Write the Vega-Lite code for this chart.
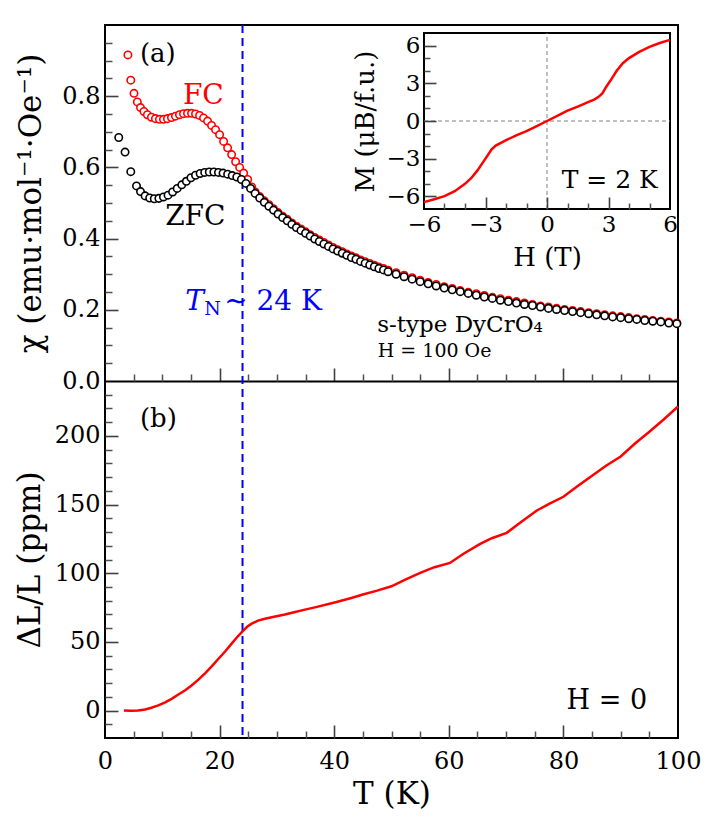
{
  "$schema": "https://vega.github.io/schema/vega-lite/v6.json",
  "width": 573,
  "height": 713,
  "autosize": {"type": "none"},
  "padding": {"left": 105, "top": 25, "right": 29, "bottom": 79},
  "background": "white",
  "config": {
    "view": {"stroke": "black", "strokeWidth": 2},
    "font": "DejaVu Serif",
    "text": {"font": "DejaVu Serif"},
    "axis": {
      "labelFont": "DejaVu Serif", "titleFont": "DejaVu Serif",
      "labelColor": "black", "titleColor": "black", "domainColor": "black",
      "grid": false, "labelFontSize": 24, "titleFontSize": 31, "titleFontWeight": "normal",
      "labelFlush": false, "labelOverlap": false, "labelBound": false, "domain": false
    }
  },
  "datasets": {
    "one": [{}],
    "fc": [
      {"T":4.0,"chi":0.916},{"T":4.5,"chi":0.845},{"T":5.06,"chi":0.808},{"T":5.64,"chi":0.784},{"T":6.2,"chi":0.768},
      {"T":6.8,"chi":0.757},{"T":7.4,"chi":0.748},{"T":8.1,"chi":0.741},{"T":8.8,"chi":0.737},{"T":9.5,"chi":0.735},
      {"T":10.2,"chi":0.735},{"T":10.9,"chi":0.737},{"T":11.6,"chi":0.740},{"T":12.3,"chi":0.744},{"T":13.0,"chi":0.748},
      {"T":13.7,"chi":0.751},{"T":14.4,"chi":0.752},{"T":15.1,"chi":0.752},{"T":15.8,"chi":0.750},{"T":16.5,"chi":0.746},
      {"T":17.2,"chi":0.739},{"T":17.9,"chi":0.730},{"T":18.6,"chi":0.718},{"T":19.3,"chi":0.706},{"T":20.0,"chi":0.692},
      {"T":20.7,"chi":0.673},{"T":21.4,"chi":0.655},{"T":22.1,"chi":0.636},{"T":22.8,"chi":0.616},{"T":23.5,"chi":0.600},
      {"T":24.2,"chi":0.584},{"T":24.9,"chi":0.566},{"T":25.6,"chi":0.545},
      {"T":26.2,"chi":0.531},{"T":27.0,"chi":0.518},{"T":27.8,"chi":0.506},{"T":28.6,"chi":0.495},{"T":29.4,"chi":0.484},
      {"T":30.2,"chi":0.473},{"T":31.0,"chi":0.463},{"T":31.8,"chi":0.454},{"T":32.6,"chi":0.444},{"T":33.4,"chi":0.435},
      {"T":34.2,"chi":0.427},{"T":35.0,"chi":0.419},{"T":35.8,"chi":0.411},{"T":36.6,"chi":0.403},{"T":37.4,"chi":0.396},
      {"T":38.2,"chi":0.389},{"T":39.0,"chi":0.382},{"T":39.8,"chi":0.375},{"T":40.6,"chi":0.369},{"T":41.4,"chi":0.363},
      {"T":42.2,"chi":0.357},{"T":43.0,"chi":0.351},{"T":43.8,"chi":0.346},{"T":44.6,"chi":0.340},{"T":45.4,"chi":0.335},
      {"T":46.2,"chi":0.330},{"T":47.0,"chi":0.325},{"T":47.8,"chi":0.320},{"T":48.6,"chi":0.316},{"T":49.4,"chi":0.311},
      {"T":50.8,"chi":0.304},{"T":52.2,"chi":0.297},{"T":53.6,"chi":0.290},{"T":55.0,"chi":0.283},{"T":56.4,"chi":0.277},
      {"T":57.8,"chi":0.271},{"T":59.2,"chi":0.265},{"T":60.6,"chi":0.260},{"T":62.0,"chi":0.254},{"T":63.4,"chi":0.249},
      {"T":64.8,"chi":0.245},{"T":66.2,"chi":0.240},{"T":67.6,"chi":0.235},{"T":69.0,"chi":0.231},{"T":70.4,"chi":0.227},
      {"T":71.8,"chi":0.223},{"T":73.2,"chi":0.219},{"T":74.6,"chi":0.215},{"T":76.0,"chi":0.211},{"T":77.4,"chi":0.208},
      {"T":78.8,"chi":0.204},{"T":80.2,"chi":0.201},{"T":81.6,"chi":0.198},{"T":83.0,"chi":0.195},{"T":84.4,"chi":0.192},
      {"T":85.8,"chi":0.189},{"T":87.2,"chi":0.186},{"T":88.6,"chi":0.183},{"T":90.0,"chi":0.181},{"T":91.4,"chi":0.178},
      {"T":92.8,"chi":0.175},{"T":94.2,"chi":0.173},{"T":95.6,"chi":0.170},{"T":97.0,"chi":0.168},{"T":98.4,"chi":0.166},
      {"T":99.8,"chi":0.163}
    ],
    "zfc": [
      {"T":2.4,"chi":0.684},{"T":3.5,"chi":0.643},{"T":4.5,"chi":0.588},{"T":5.5,"chi":0.548},{"T":6.2,"chi":0.532},
      {"T":7.0,"chi":0.520},{"T":7.8,"chi":0.514},{"T":8.6,"chi":0.512},{"T":9.4,"chi":0.513},{"T":10.2,"chi":0.517},
      {"T":11.0,"chi":0.522},{"T":11.8,"chi":0.531},{"T":12.6,"chi":0.541},{"T":13.4,"chi":0.551},{"T":14.2,"chi":0.561},
      {"T":15.0,"chi":0.571},{"T":15.8,"chi":0.578},{"T":16.6,"chi":0.583},{"T":17.4,"chi":0.586},{"T":18.2,"chi":0.587},
      {"T":19.0,"chi":0.587},{"T":19.8,"chi":0.586},{"T":20.6,"chi":0.584},{"T":21.4,"chi":0.581},{"T":22.2,"chi":0.577},
      {"T":23.0,"chi":0.573},{"T":23.8,"chi":0.566},{"T":24.6,"chi":0.555},{"T":25.4,"chi":0.541},{"T":26.2,"chi":0.527},
      {"T":27.0,"chi":0.514},{"T":27.8,"chi":0.502},{"T":28.6,"chi":0.491},{"T":29.4,"chi":0.480},{"T":30.2,"chi":0.469},
      {"T":31.0,"chi":0.459},{"T":31.8,"chi":0.450},{"T":32.6,"chi":0.440},{"T":33.4,"chi":0.431},{"T":34.2,"chi":0.423},
      {"T":35.0,"chi":0.415},{"T":35.8,"chi":0.407},{"T":36.6,"chi":0.399},{"T":37.4,"chi":0.392},{"T":38.2,"chi":0.385},
      {"T":39.0,"chi":0.378},{"T":39.8,"chi":0.371},{"T":40.6,"chi":0.365},{"T":41.4,"chi":0.359},{"T":42.2,"chi":0.353},
      {"T":43.0,"chi":0.347},{"T":43.8,"chi":0.342},{"T":44.6,"chi":0.336},{"T":45.4,"chi":0.331},{"T":46.2,"chi":0.326},
      {"T":47.0,"chi":0.321},{"T":47.8,"chi":0.316},{"T":48.6,"chi":0.312},{"T":49.4,"chi":0.307},{"T":50.8,"chi":0.300},
      {"T":52.2,"chi":0.293},{"T":53.6,"chi":0.286},{"T":55.0,"chi":0.279},{"T":56.4,"chi":0.273},{"T":57.8,"chi":0.267},
      {"T":59.2,"chi":0.261},{"T":60.6,"chi":0.256},{"T":62.0,"chi":0.251},{"T":63.4,"chi":0.246},{"T":64.8,"chi":0.241},
      {"T":66.2,"chi":0.236},{"T":67.6,"chi":0.232},{"T":69.0,"chi":0.227},{"T":70.4,"chi":0.223},{"T":71.8,"chi":0.219},
      {"T":73.2,"chi":0.215},{"T":74.6,"chi":0.212},{"T":76.0,"chi":0.208},{"T":77.4,"chi":0.204},{"T":78.8,"chi":0.201},
      {"T":80.2,"chi":0.198},{"T":81.6,"chi":0.195},{"T":83.0,"chi":0.192},{"T":84.4,"chi":0.189},{"T":85.8,"chi":0.186},
      {"T":87.2,"chi":0.183},{"T":88.6,"chi":0.180},{"T":90.0,"chi":0.178},{"T":91.4,"chi":0.175},{"T":92.8,"chi":0.173},
      {"T":94.2,"chi":0.170},{"T":95.6,"chi":0.168},{"T":97.0,"chi":0.166},{"T":98.4,"chi":0.163},{"T":99.8,"chi":0.161}
    ],
    "dl": [
      {"T":3.3,"dL":0},{"T":4.5,"dL":-0.2},{"T":5.8,"dL":0},{"T":7.0,"dL":0.8},{"T":8.1,"dL":2},{"T":9.3,"dL":3.8},
      {"T":10.5,"dL":6},{"T":11.7,"dL":8.7},{"T":12.8,"dL":11.7},{"T":14.0,"dL":14.8},{"T":15.1,"dL":18.2},{"T":16.3,"dL":22.5},
      {"T":17.5,"dL":27.3},{"T":18.7,"dL":32.5},{"T":19.8,"dL":37.7},{"T":21.0,"dL":43.2},{"T":22.1,"dL":48.7},{"T":23.0,"dL":53.2},
      {"T":24.0,"dL":57.7},{"T":24.8,"dL":61.0},{"T":25.6,"dL":63.3},{"T":26.7,"dL":65.5},{"T":27.9,"dL":66.9},{"T":29.5,"dL":68.3},
      {"T":31.4,"dL":70.0},{"T":33.0,"dL":71.6},{"T":34.9,"dL":73.5},{"T":37.0,"dL":75.5},{"T":40.4,"dL":79.0},{"T":43.0,"dL":82.0},
      {"T":45.0,"dL":84.5},{"T":47.5,"dL":87.3},{"T":50.0,"dL":90.5},{"T":52.5,"dL":95.5},{"T":55.0,"dL":100.2},{"T":57.5,"dL":104.4},
      {"T":60.2,"dL":107.5},{"T":62.5,"dL":114.0},{"T":65.4,"dL":121.2},{"T":67.5,"dL":125.5},{"T":70.1,"dL":129.4},{"T":72.5,"dL":137.0},
      {"T":75.3,"dL":145.5},{"T":77.5,"dL":150.5},{"T":80.0,"dL":155.7},{"T":82.5,"dL":163.5},{"T":85.0,"dL":171.0},{"T":87.5,"dL":178.5},
      {"T":90.0,"dL":185.0},{"T":92.5,"dL":194.5},{"T":95.0,"dL":203.0},{"T":97.5,"dL":212.0},{"T":100.0,"dL":221.4}
    ],
    "mh": [
      {"H":-6.0,"M":-6.45},{"H":-5.5,"M":-6.22},{"H":-5.0,"M":-5.98},{"H":-4.5,"M":-5.58},{"H":-4.0,"M":-5.0},
      {"H":-3.7,"M":-4.55},{"H":-3.4,"M":-3.95},{"H":-3.15,"M":-3.35},{"H":-2.9,"M":-2.75},{"H":-2.7,"M":-2.25},
      {"H":-2.5,"M":-1.95},{"H":-2.2,"M":-1.7},{"H":-1.9,"M":-1.45},{"H":-1.5,"M":-1.15},{"H":-1.0,"M":-0.8},
      {"H":-0.5,"M":-0.4},{"H":0,"M":0},{"H":0.5,"M":0.4},{"H":1.0,"M":0.82},{"H":1.5,"M":1.15},{"H":2.0,"M":1.5},
      {"H":2.3,"M":1.7},{"H":2.5,"M":1.9},{"H":2.7,"M":2.2},{"H":2.9,"M":2.75},{"H":3.15,"M":3.35},{"H":3.4,"M":4.0},
      {"H":3.7,"M":4.6},{"H":4.0,"M":5.0},{"H":4.5,"M":5.5},{"H":5.0,"M":5.9},{"H":5.5,"M":6.2},{"H":6.0,"M":6.45}
    ]
  },
  "resolve": {
    "scale": {"x": "independent", "y": "independent"},
    "axis": {"x": "independent", "y": "independent"}
  },
  "layer": [
    {
      "data": {"name": "one"},
      "mark": {"type": "rule", "color": "#0000ff", "strokeWidth": 2, "strokeDash": [8, 5]},
      "encoding": {
        "x": {"datum": 24, "type": "quantitative", "scale": {"domain": [0, 100], "nice": false, "zero": false}, "axis": null}
      }
    },
    {
      "data": {"name": "fc"},
      "mark": {"type": "point", "shape": "circle", "size": 55, "stroke": "#ff0000", "strokeWidth": 1.6, "fill": "white", "fillOpacity": 1, "opacity": 1},
      "encoding": {
        "x": {"field": "T", "type": "quantitative", "scale": {"domain": [0, 100], "nice": false, "zero": false},
              "axis": {"orient": "bottom", "values": [0, 20, 40, 60, 80, 100], "ticks": false, "labelPadding": 11, "title": "T (K)", "titlePadding": 6}},
        "y": {"field": "chi", "type": "quantitative", "scale": {"domain": [0, 1], "range": [356, 0], "nice": false, "zero": false},
              "axis": {"orient": "left", "values": [0, 0.2, 0.4, 0.6, 0.8], "format": ".1f", "ticks": false, "labelPadding": 5, "title": "χ (emu·mol⁻¹·Oe⁻¹)", "titlePadding": 14}}
      }
    },
    {
      "data": {"name": "zfc"},
      "mark": {"type": "point", "shape": "circle", "size": 55, "stroke": "black", "strokeWidth": 1.6, "fill": "white", "fillOpacity": 1, "opacity": 1},
      "encoding": {
        "x": {"field": "T", "type": "quantitative", "scale": {"domain": [0, 100], "nice": false, "zero": false},
              "axis": {"orient": "top", "offset": -713, "values": [20, 40, 60, 80], "tickSize": 13, "tickColor": "#404040", "tickWidth": 1.6, "labels": false, "title": null}},
        "y": {"field": "chi", "type": "quantitative", "scale": {"domain": [0, 1], "range": [356, 0], "nice": false, "zero": false},
              "axis": {"orient": "right", "offset": -573, "values": [0.2, 0.4, 0.6, 0.8], "tickSize": 13, "tickColor": "#404040", "tickWidth": 1.6, "labels": false, "title": null}}
      }
    },
    {
      "data": {"name": "dl"},
      "mark": {"type": "line", "color": "#ff0000", "strokeWidth": 2.5},
      "encoding": {
        "x": {"field": "T", "type": "quantitative", "scale": {"domain": [0, 100], "nice": false, "zero": false},
              "axis": {"orient": "top", "offset": -356, "values": [20, 40, 60, 80], "tickSize": 13, "tickColor": "#404040", "tickWidth": 1.6, "domain": true, "domainWidth": 2, "labels": false, "title": null}},
        "y": {"field": "dL", "type": "quantitative", "scale": {"domain": [-20, 240], "range": [713, 356], "nice": false, "zero": false},
              "axis": {"orient": "left", "values": [0, 50, 100, 150, 200], "ticks": false, "labelPadding": 5, "title": "ΔL/L (ppm)", "titlePadding": 8}}
      }
    },
    {
      "data": {"name": "one"},
      "mark": {"type": "text", "text": "(b)", "align": "left", "baseline": "middle", "fontSize": 26},
      "encoding": {
        "x": {"datum": 6.1, "type": "quantitative", "scale": {"domain": [0, 100], "nice": false, "zero": false},
              "axis": {"orient": "top", "offset": -356, "values": [5, 10, 15, 25, 30, 35, 45, 50, 55, 65, 70, 75, 85, 90, 95], "tickSize": 7, "tickWidth": 1.5, "tickColor": "#505050", "labels": false, "title": null}},
        "y": {"datum": 212, "type": "quantitative", "scale": {"domain": [-20, 240], "range": [713, 356], "nice": false, "zero": false},
              "axis": {"orient": "left", "values": [0, 50, 100, 150, 200], "tickSize": -13, "tickColor": "#404040", "tickWidth": 1.6, "labels": false, "title": null}}
      }
    },
    {
      "data": {"name": "one"},
      "mark": {"type": "text", "text": "H = 0", "align": "right", "baseline": "middle", "fontSize": 27},
      "encoding": {
        "x": {"datum": 94.6, "type": "quantitative", "scale": {"domain": [0, 100], "nice": false, "zero": false},
              "axis": {"orient": "bottom", "values": [5, 10, 15, 25, 30, 35, 45, 50, 55, 65, 70, 75, 85, 90, 95], "tickSize": -7, "tickColor": "#505050", "tickWidth": 1.5, "labels": false, "title": null}},
        "y": {"datum": 6.6, "type": "quantitative", "scale": {"domain": [-20, 240], "range": [713, 356], "nice": false, "zero": false},
              "axis": {"orient": "right", "offset": -573, "values": [-10, 10, 20, 30, 40, 60, 70, 80, 90, 110, 120, 130, 140, 160, 170, 180, 190, 210, 220, 230], "tickSize": 7, "tickColor": "#505050", "tickWidth": 1.5, "labels": false, "title": null}}
      }
    },
    {
      "data": {"name": "one"},
      "mark": {"type": "text", "text": "(a)", "align": "left", "baseline": "middle", "fontSize": 26},
      "encoding": {
        "x": {"datum": 6.1, "type": "quantitative", "scale": {"domain": [0, 100], "nice": false, "zero": false}, "axis": null},
        "y": {"datum": 0.918, "type": "quantitative", "scale": {"domain": [0, 1], "range": [356, 0], "nice": false, "zero": false},
              "axis": {"orient": "left", "values": [0.05, 0.1, 0.15, 0.25, 0.3, 0.35, 0.45, 0.5, 0.55, 0.65, 0.7, 0.75, 0.85, 0.9, 0.95], "tickSize": -7, "tickColor": "#505050", "tickWidth": 1.5, "labels": false, "title": null}}
      }
    },
    {
      "data": {"name": "one"},
      "mark": {"type": "text", "text": "FC", "align": "left", "baseline": "middle", "fontSize": 28, "color": "#ff0000"},
      "encoding": {
        "x": {"datum": 13.6, "type": "quantitative", "scale": {"domain": [0, 100], "nice": false, "zero": false}, "axis": null},
        "y": {"datum": 0.8, "type": "quantitative", "scale": {"domain": [0, 1], "range": [356, 0], "nice": false, "zero": false}, "axis": null}
      }
    },
    {
      "data": {"name": "one"},
      "mark": {"type": "text", "text": "ZFC", "align": "left", "baseline": "middle", "fontSize": 28, "color": "black"},
      "encoding": {
        "x": {"datum": 10.5, "type": "quantitative", "scale": {"domain": [0, 100], "nice": false, "zero": false}, "axis": null},
        "y": {"datum": 0.462, "type": "quantitative", "scale": {"domain": [0, 1], "range": [356, 0], "nice": false, "zero": false}, "axis": null}
      }
    },
    {
      "data": {"name": "one"},
      "mark": {"type": "text", "text": "T", "align": "left", "baseline": "middle", "fontSize": 28, "fontStyle": "italic", "color": "#0000ff"},
      "encoding": {
        "x": {"datum": 14.0, "type": "quantitative", "scale": {"domain": [0, 100], "nice": false, "zero": false}, "axis": null},
        "y": {"datum": 0.2225, "type": "quantitative", "scale": {"domain": [0, 1], "range": [356, 0], "nice": false, "zero": false}, "axis": null}
      }
    },
    {
      "data": {"name": "one"},
      "mark": {"type": "text", "text": "N", "align": "left", "baseline": "middle", "fontSize": 19, "color": "#0000ff"},
      "encoding": {
        "x": {"datum": 17.3, "type": "quantitative", "scale": {"domain": [0, 100], "nice": false, "zero": false}, "axis": null},
        "y": {"datum": 0.203, "type": "quantitative", "scale": {"domain": [0, 1], "range": [356, 0], "nice": false, "zero": false}, "axis": null}
      }
    },
    {
      "data": {"name": "one"},
      "mark": {"type": "text", "text": "∼ 24 K", "align": "left", "baseline": "middle", "fontSize": 28, "color": "#0000ff"},
      "encoding": {
        "x": {"datum": 20.8, "type": "quantitative", "scale": {"domain": [0, 100], "nice": false, "zero": false}, "axis": null},
        "y": {"datum": 0.2225, "type": "quantitative", "scale": {"domain": [0, 1], "range": [356, 0], "nice": false, "zero": false}, "axis": null}
      }
    },
    {
      "data": {"name": "one"},
      "mark": {"type": "text", "text": "s-type DyCrO₄", "align": "left", "baseline": "middle", "fontSize": 23},
      "encoding": {
        "x": {"datum": 47.5, "type": "quantitative", "scale": {"domain": [0, 100], "nice": false, "zero": false}, "axis": null},
        "y": {"datum": 0.158, "type": "quantitative", "scale": {"domain": [0, 1], "range": [356, 0], "nice": false, "zero": false}, "axis": null}
      }
    },
    {
      "data": {"name": "one"},
      "mark": {"type": "text", "text": "H = 100 Oe", "align": "left", "baseline": "middle", "fontSize": 19},
      "encoding": {
        "x": {"datum": 47.6, "type": "quantitative", "scale": {"domain": [0, 100], "nice": false, "zero": false}, "axis": null},
        "y": {"datum": 0.085, "type": "quantitative", "scale": {"domain": [0, 1], "range": [356, 0], "nice": false, "zero": false}, "axis": null}
      }
    },
    {
      "data": {"name": "one"},
      "mark": {"type": "rect", "fill": "white", "stroke": "black", "strokeWidth": 2},
      "encoding": {
        "x": {"datum": -6, "type": "quantitative", "scale": {"domain": [-6, 6], "range": [319, 565], "nice": false, "zero": false}, "axis": null},
        "x2": {"datum": 6},
        "y": {"datum": -7, "type": "quantitative", "scale": {"domain": [-7, 7], "range": [184, 8], "nice": false, "zero": false}, "axis": null},
        "y2": {"datum": 7}
      }
    },
    {
      "data": {"name": "one"},
      "mark": {"type": "rule", "color": "#808080", "strokeWidth": 1, "strokeDash": [4, 3]},
      "encoding": {
        "x": {"datum": 0, "type": "quantitative", "scale": {"domain": [-6, 6], "range": [319, 565], "nice": false, "zero": false},
              "axis": {"orient": "bottom", "offset": -529, "values": [-5, -4, -2, -1, 1, 2, 4, 5], "tickSize": -6, "tickColor": "#505050", "tickWidth": 1.5, "labels": false, "title": null, "zindex": 5}},
        "y": {"datum": -7, "type": "quantitative", "scale": {"domain": [-7, 7], "range": [184, 8], "nice": false, "zero": false},
              "axis": {"orient": "left", "offset": -319, "values": [-5, -4, -2, -1, 1, 2, 4, 5], "tickSize": -6, "tickColor": "#505050", "tickWidth": 1.5, "labels": false, "title": null, "zindex": 5}},
        "y2": {"datum": 7}
      }
    },
    {
      "data": {"name": "one"},
      "mark": {"type": "rule", "color": "#808080", "strokeWidth": 1, "strokeDash": [4, 3]},
      "encoding": {
        "x": {"datum": -6, "type": "quantitative", "scale": {"domain": [-6, 6], "range": [319, 565], "nice": false, "zero": false},
              "axis": {"orient": "top", "offset": -184, "values": [-3, 0, 3], "tickSize": 12, "tickColor": "#404040", "tickWidth": 1.6, "labels": false, "title": null, "zindex": 5}},
        "x2": {"datum": 6},
        "y": {"datum": 0, "type": "quantitative", "scale": {"domain": [-7, 7], "range": [184, 8], "nice": false, "zero": false},
              "axis": {"orient": "right", "offset": -254, "values": [-6, -3, 0, 3, 6], "tickSize": 12, "tickColor": "#404040", "tickWidth": 1.6, "labels": false, "title": null, "zindex": 5}}
      }
    },
    {
      "data": {"name": "mh"},
      "mark": {"type": "line", "color": "#ff0000", "strokeWidth": 2.5},
      "encoding": {
        "x": {"field": "H", "type": "quantitative", "scale": {"domain": [-6, 6], "range": [319, 565], "nice": false, "zero": false},
              "axis": {"orient": "bottom", "offset": -529, "values": [-6, -3, 0, 3, 6], "ticks": false, "labelPadding": 4, "labelFontSize": 23, "title": "H (T)", "titleFontSize": 26, "titlePadding": 8}},
        "y": {"field": "M", "type": "quantitative", "scale": {"domain": [-7, 7], "range": [184, 8], "nice": false, "zero": false},
              "axis": {"orient": "left", "offset": -319, "values": [-6, -3, 0, 3, 6], "ticks": false, "labelPadding": 4, "labelFontSize": 23, "title": "M (μB/f.u.)", "titleFontSize": 26, "titlePadding": 8}}
      }
    },
    {
      "data": {"name": "one"},
      "mark": {"type": "text", "text": "T = 2 K", "align": "right", "baseline": "middle", "fontSize": 25},
      "encoding": {
        "x": {"datum": 5.4, "type": "quantitative", "scale": {"domain": [-6, 6], "range": [319, 565], "nice": false, "zero": false}, "axis": null},
        "y": {"datum": -4.66, "type": "quantitative", "scale": {"domain": [-7, 7], "range": [184, 8], "nice": false, "zero": false}, "axis": null}
      }
    }
  ]
}
